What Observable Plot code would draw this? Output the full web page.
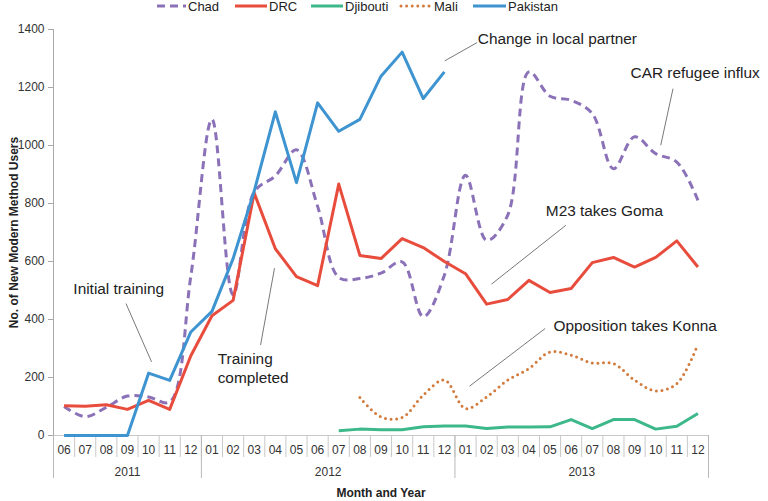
<!DOCTYPE html>
<html><head><meta charset="utf-8">
<script src="https://cdn.jsdelivr.net/npm/d3@7"></script>
<script src="https://cdn.jsdelivr.net/npm/@observablehq/plot@0.6"></script>
<style>
body{margin:0;background:#fff;font-family:"Liberation Sans",Arial,sans-serif;}
#legend{position:relative;height:16px;width:768px;}
.item{position:absolute;top:0;height:12px;display:flex;align-items:center;font-size:13px;color:#222;white-space:nowrap;}
.item svg{margin-right:2px;overflow:visible}
</style></head><body>
<div id="legend"></div>
<div id="chart"></div>
<script>
// ---- data ----
const months = ["06","07","08","09","10","11","12",
  "01","02","03","04","05","06","07","08","09","10","11","12",
  "01","02","03","04","05","06","07","08","09","10","11","12"];
const years = ["2011","2012","2013"];
const yearFirst = [0, 7, 19];
const yearLast = [6, 18, 30];
const yTicks = [0,200,400,600,800,1000,1200,1400];
const seriesNames = ["Chad","DRC","Djibouti","Mali","Pakistan"];
const chad = [100,65,97,136,133,116,550, 1090,485,840,895,985,790,545,541,560,599,409,553, 897,673,760,1254,1170,1156,1110,920,1030,972,943,811];
const drc = [103,101,106,90,121,90,275, 413,466,836,644,548,517,867,621,610,679,648,600, 558,453,469,535,493,507,596,614,581,614,671,581];
const djibouti = [null,null,null,null,null,null,null, null,null,null,null,null,null,16,22,20,20,30,33, 33,24,29,29,30,55,24,55,55,22,32,76];
const mali = [null,null,null,null,null,null,null, null,null,null,null,null,null,null,131,64,62,139,191, 93,133,191,231,288,277,250,248,191,154,179,315];
const pakistan = [0,0,0,0,215,190,357, 428,610,843,1116,872,1147,1049,1090,1239,1322,1162,1254, null,null,null,null,null,null,null,null,null,null,null,null];
const annoText = ["Initial training","Training\ncompleted","Change in local partner","CAR refugee influx","M23 takes Goma","Opposition takes Konna"];
const annoTextX = [0.44, 7.27, 19.58, 26.81, 22.8, 23.16];
const annoTextY = [508, 234, 1370, 1253, 777, 380];
const leadX1 = [2.93, 9.30, 19.55, 28.82, 23.75, 22.77];
const leadY1 = [455, 312, 1355, 1196, 725, 369];
const leadX2 = [4.14, 9.96, 18.02, 28.24, 20.23, 19.19];
const leadY2 = [254, 577, 1292, 1001, 522, 170];

// ---- styles ----
const colors = {Chad:"#8b72b8", DRC:"#e84c3d", Djibouti:"#3cb88b", Mali:"#d27b3c", Pakistan:"#3d94d0"};
const dash = {Chad:"8,5", DRC:null, Djibouti:null, Mali:"0,5.6", Pakistan:null};
const curves = {Chad:"catmull-rom", DRC:"linear", Djibouti:"linear", Mali:"catmull-rom", Pakistan:"linear"};
const values = {Chad:chad, DRC:drc, Djibouti:djibouti, Mali:mali, Pakistan:pakistan};
const legendPos = {Chad:[157,29], DRC:[235,32], Djibouti:[311,32], Mali:[401,31], Pakistan:[473,33]};

// legend
const leg = document.getElementById("legend");
for (const s of seriesNames) {
  const [left, w] = legendPos[s];
  const el = document.createElement("div");
  el.className = "item";
  el.style.left = left + "px";
  const da = dash[s] ? `stroke-dasharray="${dash[s]}"` : "";
  el.innerHTML = `<svg width="${w}" height="12"><line x1="0" x2="${w}" y1="6" y2="6" stroke="${colors[s]}" stroke-width="3" stroke-linecap="${s==="Mali"?"round":"butt"}" ${da}/></svg><span>${s}</span>`;
  leg.appendChild(el);
}

const boundaries = d3.range(months.length + 1).map(i => i - 0.5);
const yearBounds = [yearFirst[0] - 0.5, ...yearLast.map(l => l + 0.5)];
const yearCenters = yearFirst.map((f, i) => (f + yearLast[i]) / 2);
const annos = annoText.map((t, i) => ({t, x: annoTextX[i], y: annoTextY[i], x1: leadX1[i], y1: leadY1[i], x2: leadX2[i], y2: leadY2[i]}));

const lineMarks = seriesNames.map(s => Plot.line(values[s].map((v, i) => ({i, v})), {
  x: "i", y: "v", stroke: colors[s], strokeWidth: 3,
  strokeDasharray: dash[s] || undefined,
  strokeLinecap: s === "Mali" ? "round" : "butt",
  strokeLinejoin: "round",
  curve: curves[s]
}));

const chart = Plot.plot({
  width: 768, height: 485,
  marginTop: 13, marginBottom: 66, marginLeft: 53, marginRight: 60,
  style: {fontFamily: "'Liberation Sans', Arial, sans-serif", background: "#fff", overflow: "visible"},
  x: {domain: [-0.5, months.length - 0.5]},
  y: {domain: [0, 1400]},
  marks: [
    Plot.axisY(yTicks, {tickSize: 5, tickPadding: 4, tickFormat: d3.format("d"), stroke: "#a8a8a8", fill: "#333", fontSize: 12, label: null}),
    Plot.ruleX([-0.5], {stroke: "#a8a8a8"}),
    Plot.ruleY([0], {stroke: "#c8c8c8"}),
    Plot.axisX(boundaries, {tickSize: 22, tickFormat: () => "", stroke: "#c8c8c8", label: null}),
    Plot.axisX(yearBounds, {tickSize: 43, tickFormat: () => "", stroke: "#b8b8b8", label: null}),
    Plot.text(months, {x: (d, i) => i, frameAnchor: "bottom", dy: 15, lineAnchor: "middle", fontSize: 12, fill: "#333"}),
    Plot.text(years, {x: (d, i) => yearCenters[i], frameAnchor: "bottom", dy: 36.5, lineAnchor: "middle", fontSize: 12, fill: "#333"}),
    Plot.text(["Month and Year"], {frameAnchor: "bottom", dy: 57.7, lineAnchor: "middle", fontSize: 12, fontWeight: "bold", fill: "#222"}),
    Plot.text(["No. of New Modern Method Users"], {frameAnchor: "left", dx: -39, rotate: -90, textAnchor: "middle", lineAnchor: "middle", fontSize: 12, fontWeight: "bold", fill: "#222"}),
    ...lineMarks,
    Plot.link(annos, {x1: "x1", y1: "y1", x2: "x2", y2: "y2", stroke: "#555", strokeWidth: 0.8}),
    Plot.text(annos, {x: "x", y: "y", text: "t", textAnchor: "start", lineAnchor: "middle", fontSize: 15.4, lineHeight: 1.22, fill: "#222"})
  ]
});
document.getElementById("chart").appendChild(chart);
</script>
</body></html>
